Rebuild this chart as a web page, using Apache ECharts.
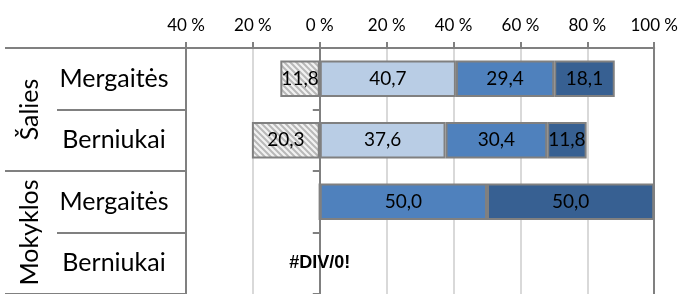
<!DOCTYPE html>
<html>
<head>
<meta charset="utf-8">
<script src="https://cdn.jsdelivr.net/npm/echarts@6/dist/echarts.min.js"></script>
<style>
    html, body { margin: 0; padding: 0; background: #fff; }
    #chart { width: 681px; height: 294px; }
</style>
</head>
<body>
<div id="chart"></div>
<script>
    // duomenys
    const grupes = ['Šalies', 'Mokyklos'];
    const eilutes = ['Mergaitės', 'Berniukai', 'Mergaitės', 'Berniukai'];
    const neigiami = [-11.8, -20.3, 0, null];
    const sviesus = [40.7, 37.6, 0, null];
    const vidutinis = [29.4, 30.4, 50.0, null];
    const tamsus = [18.1, 11.8, 50.0, null];
    const klaidos = ['', '', '', '#DIV/0!'];
    const asiesZymos = [-40, -20, 0, 20, 40, 60, 80, 100];

    const pilka = '#808080';
    const sriftas = 'Lato';

    // brūkšniuotas raštas
    const makeHatch = () => {
        const c = document.createElement('canvas');
        c.width = 6;
        c.height = 6;
        const ctx = c.getContext('2d');
        ctx.fillStyle = '#f2f2f2';
        ctx.fillRect(0, 0, 6, 6);
        ctx.strokeStyle = '#b8b8b8';
        ctx.lineWidth = 2;
        ctx.beginPath();
        ctx.moveTo(-1, -1); ctx.lineTo(7, 7);
        ctx.moveTo(-4, 2); ctx.lineTo(4, 10);
        ctx.moveTo(2, -4); ctx.lineTo(10, 4);
        ctx.stroke();
        return c;
    };

    const fmt = (p) => {
        if (p.value === null || p.value === undefined || p.value === 0) return '';
        return Math.abs(p.value).toFixed(1).replace('.', ',');
    };

    const barSeries = (name, data, color) => ({
        name: name,
        type: 'bar',
        stack: 'visi',
        data: data,
        barWidth: '59%',
        itemStyle: { color: color, borderColor: pilka, borderWidth: 2 },
        label: {
            show: true,
            position: 'inside',
            formatter: fmt,
            color: '#000',
            fontFamily: sriftas,
            fontSize: 19
        },
        emphasis: { disabled: true }
    });

    const chart = echarts.init(document.getElementById('chart'));

    const option = {
        animation: false,
        grid: { left: 186, right: 25, top: 48, height: 251 },
        xAxis: {
            type: 'value',
            position: 'top',
            min: asiesZymos[0],
            max: asiesZymos[asiesZymos.length - 1],
            interval: 20,
            axisLine: { show: true, onZero: false, lineStyle: { color: pilka, width: 2 } },
            axisTick: { show: true, length: 6, lineStyle: { color: pilka, width: 2 } },
            axisLabel: {
                margin: 14,
                color: '#000',
                fontFamily: sriftas,
                fontSize: 17,
                formatter: (v) => Math.abs(v) + ' %'
            },
            splitLine: { show: true, lineStyle: { color: '#d9d9d9', width: 2 } }
        },
        yAxis: [
            {
                // ašis ties nuliu
                type: 'category',
                inverse: true,
                data: eilutes,
                axisLine: { show: true, onZero: true, lineStyle: { color: pilka, width: 2 } },
                axisTick: { show: true, length: 7, interval: 0, lineStyle: { color: pilka, width: 2 } },
                axisLabel: { show: false }
            },
            {
                // eilučių pavadinimai
                type: 'category',
                position: 'left',
                inverse: true,
                data: eilutes,
                axisLine: { show: true, onZero: false, lineStyle: { color: pilka, width: 2 } },
                axisTick: { show: true, length: 129, interval: 0, lineStyle: { color: pilka, width: 2 } },
                axisLabel: {
                    interval: 0,
                    margin: 72,
                    align: 'center',
                    color: '#000',
                    fontFamily: sriftas,
                    fontSize: 25
                }
            },
            {
                // grupės
                type: 'category',
                position: 'left',
                inverse: true,
                data: grupes,
                axisLine: { show: false, onZero: false },
                axisTick: { show: true, length: 181, interval: 0, lineStyle: { color: pilka, width: 2 } },
                axisLabel: {
                    interval: 0,
                    hideOverlap: false,
                    margin: 156,
                    rotate: 90,
                    align: 'center',
                    verticalAlign: 'middle',
                    color: '#000',
                    fontFamily: sriftas,
                    fontSize: 25
                }
            },
            {
                // dešinysis rėmelis
                type: 'category',
                position: 'right',
                data: eilutes,
                axisLine: { show: true, onZero: false, lineStyle: { color: pilka, width: 2 } },
                axisTick: { show: false },
                axisLabel: { show: false }
            }
        ],
        series: [
            barSeries('Neigiami', neigiami, { image: makeHatch(), repeat: 'repeat' }),
            barSeries('Šviesus', sviesus, '#b9cde5'),
            barSeries('Vidutinis', vidutinis, '#4f81bd'),
            barSeries('Tamsus', tamsus, '#376092'),
            {
                name: 'Klaidos',
                type: 'scatter',
                symbolSize: 0,
                itemStyle: { opacity: 1 },
                data: klaidos.map((t, i) => (t ? { value: [0, i], klaida: t } : null)).filter(Boolean),
                label: {
                    show: true,
                    position: 'inside',
                    formatter: (p) => p.data.klaida,
                    color: '#000',
                    fontFamily: 'Liberation Sans',
                    fontWeight: 'bold',
                    fontSize: 18
                },
                emphasis: { disabled: true }
            }
        ]
    };

    chart.setOption(option);
</script>
</body>
</html>
